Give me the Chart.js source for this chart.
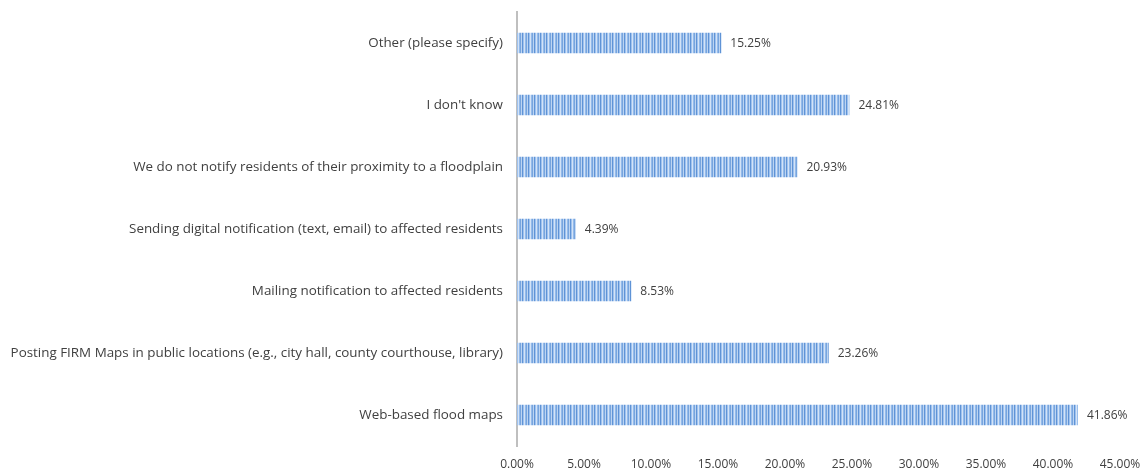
<!DOCTYPE html>
<html>
<head>
    <title>Floodplain notification</title>
    <script src="https://cdn.jsdelivr.net/npm/chart.js"></script>
    <style>
        html, body { margin: 0; padding: 0; background: #fff; }
        #wrap { width: 1146px; height: 474px; position: relative; }
    </style>
</head>
<body>
    <div id="wrap">
        <canvas id="notifyChart"></canvas>
    </div>

    <script>
        const categories = [
            'Other (please specify)',
            "I don't know",
            'We do not notify residents of their proximity to a floodplain',
            'Sending digital notification (text, email) to affected residents',
            'Mailing notification to affected residents',
            'Posting FIRM Maps in public locations (e.g., city hall, county courthouse, library)',
            'Web-based flood maps'
        ];
        const shares = [15.25, 24.81, 20.93, 4.39, 8.53, 23.26, 41.86];
        const axisTicks = [0, 5, 10, 15, 20, 25, 30, 35, 40, 45];

        const FONT = '"Open Sans", "Liberation Sans", sans-serif';
        const TEXT = '#404040';

        // vertical stripe fill, like the Excel pattern
        function stripeFill() {
            const c = document.createElement('canvas');
            c.width = 6; c.height = 4;
            const g = c.getContext('2d');
            const cols = ['#5f93d6', '#9fc2ee', '#d3e3f7', '#94baea', '#77a5de', '#bcd4f2'];
            cols.forEach((col, i) => { g.fillStyle = col; g.fillRect(i, 0, 1, 4); });
            return g.createPattern(c, 'repeat');
        }

        // percentage labels at the end of each bar
        const valueLabels = {
            id: 'valueLabels',
            afterDatasetsDraw(chart) {
                const ctx = chart.ctx;
                const meta = chart.getDatasetMeta(0);
                ctx.save();
                ctx.font = '12px ' + FONT;
                ctx.fillStyle = TEXT;
                ctx.textBaseline = 'middle';
                ctx.textAlign = 'left';
                meta.data.forEach((bar, i) => {
                    ctx.fillText(shares[i].toFixed(2) + '%', bar.x + 9, bar.y + 1);
                });
                ctx.restore();
            }
        };

        const ctx = document.getElementById('notifyChart').getContext('2d');
        new Chart(ctx, {
            type: 'bar',
            data: {
                labels: categories,
                datasets: [{
                    data: shares,
                    backgroundColor: stripeFill(),
                    borderWidth: 0,
                    barPercentage: 0.33,
                    categoryPercentage: 1
                }]
            },
            plugins: [valueLabels],
            options: {
                indexAxis: 'y',
                responsive: true,
                maintainAspectRatio: false,
                animation: false,
                layout: { padding: { top: 12, right: 26, left: 0, bottom: 0 } },
                plugins: {
                    legend: { display: false },
                    tooltip: { enabled: false }
                },
                scales: {
                    x: {
                        min: 0,
                        max: 45,
                        afterBuildTicks: s => { s.ticks = axisTicks.map(v => ({ value: v })); },
                        afterFit: s => { s.height = 28; s.paddingLeft = 0; s.paddingRight = 0; },
                        grid: { display: false, drawTicks: false },
                        border: { display: false },
                        ticks: {
                            padding: 11,
                            color: TEXT,
                            font: { family: FONT, size: 12 },
                            maxRotation: 0,
                            callback: v => v.toFixed(2) + '%'
                        }
                    },
                    y: {
                        afterFit: s => { s.width = 517; s.paddingTop = 0; s.paddingBottom = 0; },
                        grid: { display: false, drawTicks: false },
                        border: { display: true, color: '#bfbfbf', width: 2 },
                        ticks: {
                            padding: 14,
                            color: TEXT,
                            font: { family: FONT, size: 13.4 }
                        }
                    }
                }
            }
        });
    </script>
</body>
</html>
